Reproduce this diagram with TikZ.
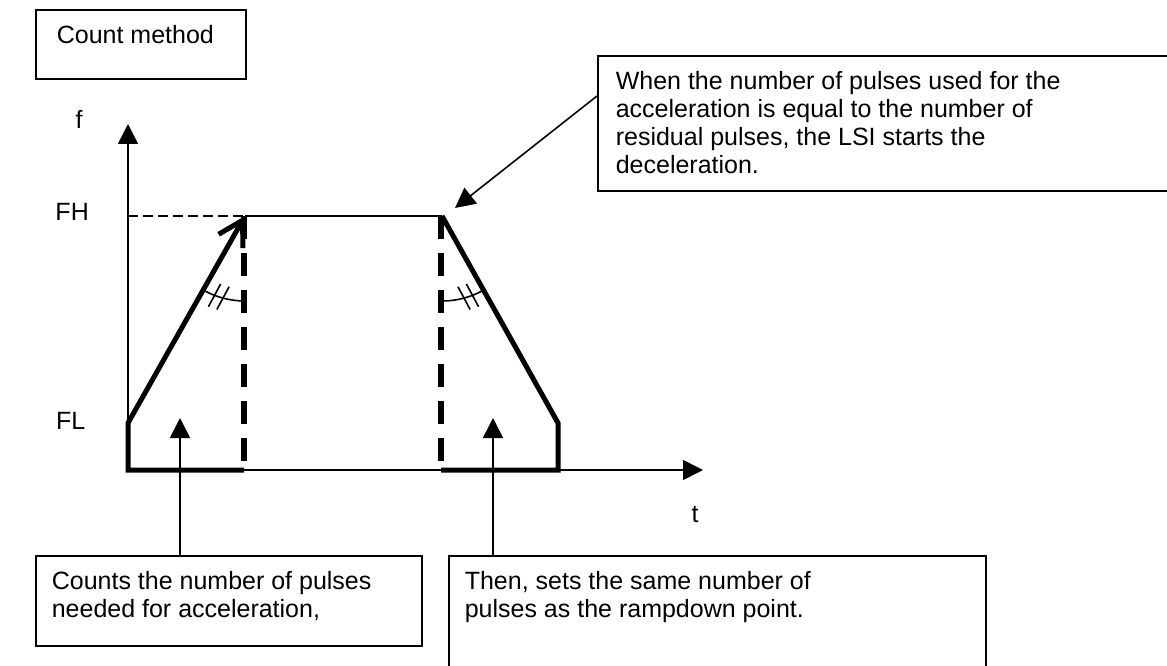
\documentclass[tikz,border=0pt]{standalone}
\usepackage{fontspec}
\setmainfont{Liberation Sans}
\usetikzlibrary{arrows.meta}

\begin{document}
\begin{tikzpicture}[x=1pt,y=1pt,
    every node/.style={font=\fontsize{25}{28}\selectfont,inner sep=0pt},
    note/.style={draw=black,line width=1.6pt,anchor=north west,inner xsep=16pt,inner ysep=15.5pt},
    axis/.style={line width=1.6pt,-{Triangle[length=20pt,width=20pt]}},
    pointer/.style={line width=1.6pt,-{Triangle[length=20pt,width=20pt]}},
    ramp/.style={line width=5pt,line join=miter},
    gap/.style={line width=5.8pt,dash pattern=on 23pt off 14pt},
    thin/.style={line width=1.6pt}]
    \useasboundingbox (0,0) rectangle (1167,-666);

    \coordinate (O) at (128,-470);
    \coordinate (LT) at (245,-216);
    \coordinate (RT) at (442,-216);

    % axes
    \draw[axis] (O) -- (128,-124);
    \draw[axis] (O) -- (703,-470);
    \node[anchor=base] (f) at (79,-129) {f};
    \node[anchor=base] (t) at (695,-522) {t};
    \node[anchor=base east] (fh) at (89,-220) {FH};
    \node[anchor=base west] (fl) at (56,-429) {FL};

    % speed profile
    \draw[thin,dash pattern=on 10pt off 5pt] (128,-216) -- (LT);
    \draw[thin] (LT) -- (RT);
    \draw[ramp,-{Straight Barb[length=24pt,width=28pt]}] (244,-470) -- (O) -- (128,-423) -- (LT);
    \draw[ramp] (RT) -- (558,-423) -- (558,-470) -- (441,-470);
    \draw[gap] (244,-216) -- (244,-461);
    \draw[gap] (441,-216) -- (441,-461);

    % equal angles
    \draw[thin] (LT) ++(240.5:85) arc[start angle=240.5,end angle=270,radius=85];
    \draw[thin] (220.6,-284) -- (208.4,-306.8);
    \draw[thin] (229.1,-286.7) -- (216.9,-309.5);
    \draw[thin] (RT) ++(270:85) arc[start angle=270,end angle=299.3,radius=85];
    \draw[thin] (466.4,-284) -- (478.6,-306.8);
    \draw[thin] (457.9,-286.7) -- (470.1,-309.5);

    % notes
    \node[note,inner xsep=21pt] (method) at (35,-9)
        {\parbox[c][38pt][t]{168pt}{Count method}};
    \node[note,inner xsep=18pt] (residual) at (597,-55)
        {\parbox[c][104pt][t]{600pt}{When the number of pulses used for the\\acceleration is equal to the number of\\residual pulses, the LSI starts the\\deceleration.}};
    \node[note] (counts) at (35,-555)
        {\parbox[c][59pt][t]{354pt}{Counts the number of pulses\\needed for acceleration,}};
    \node[note] (same) at (448,-555)
        {\parbox[c][150pt][t]{505pt}{Then, sets the same number of\\pulses as the rampdown point.}};

    \coordinate (accl) at (180,-418);
    \coordinate (down) at (493,-418);
    \coordinate (dec) at (455,-208);
    \draw[pointer] (accl |- counts.north) -- (accl);
    \draw[pointer] (down |- same.north) -- (down);
    \draw[pointer] ([yshift=-41pt]residual.north west) -- (dec);
\end{tikzpicture}
\end{document}
